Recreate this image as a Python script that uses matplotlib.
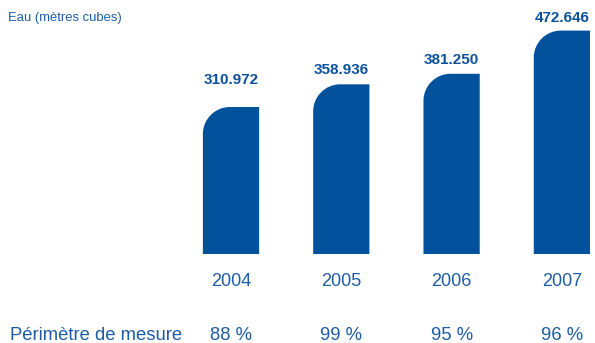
import matplotlib
matplotlib.use("Agg")
import matplotlib.pyplot as plt
import numpy as np
from matplotlib.path import Path
from matplotlib.patches import PathPatch

# ============================
# DONNEES
# ============================
years = ["2004", "2005", "2006", "2007"]
water_m3 = [310.972, 358.936, 381.250, 472.646]
value_labels = ["310.972", "358.936", "381.250", "472.646"]
perimeter = ["88 %", "99 %", "95 %", "96 %"]

title = "Eau (mètres cubes)"
row_label = "Périmètre de mesure"

# ============================
# STYLE
# ============================
BAR_COLOR = "#02519c"
TEXT_COLOR = "#1c5ca4"
VALUE_COLOR = "#0b519c"
plt.rcParams["font.family"] = ["Liberation Sans", "DejaVu Sans"]

DPI = 100
W_PX, H_PX = 595, 343
FIRST_CENTER_PX = 231.0     # centre de la premiere barre
STEP_PX = 110.3             # ecart entre barres
BASE_PX = 89.0              # ligne de base, depuis le bas
PX_PER_UNIT = 0.4727        # echelle verticale
BAR_WIDTH = 0.51
CORNER_PX = 27.0
# ecart (px) entre le haut de la barre et la ligne de base du libelle
label_gap_px = [23, 10.5, 10, 9]


def rounded_bar(ax, xc, height, width, r_px, color):
    # barre dont le coin superieur gauche est arrondi
    sx = ax.transData.transform([(1, 0)])[0][0] - ax.transData.transform([(0, 0)])[0][0]
    sy = ax.transData.transform([(0, 1)])[0][1] - ax.transData.transform([(0, 0)])[0][1]
    rx, ry = r_px / sx, r_px / sy
    x0, x1 = xc - width / 2, xc + width / 2
    k = 0.5523
    verts = [
        (x0, 0),
        (x0, height - ry),
        (x0, height - ry + k * ry), (x0 + rx - k * rx, height), (x0 + rx, height),
        (x1, height),
        (x1, 0),
        (x0, 0),
    ]
    codes = [Path.MOVETO, Path.LINETO,
             Path.CURVE4, Path.CURVE4, Path.CURVE4,
             Path.LINETO, Path.LINETO, Path.CLOSEPOLY]
    ax.add_patch(PathPatch(Path(verts, codes), facecolor=color, edgecolor="none"))


fig = plt.figure(figsize=(W_PX / DPI, H_PX / DPI), dpi=DPI)
ax = fig.add_axes([0, 0, 1, 1])
ax.set_xlim(-FIRST_CENTER_PX / STEP_PX, (W_PX - FIRST_CENTER_PX) / STEP_PX)
ax.set_ylim(-BASE_PX / PX_PER_UNIT, (H_PX - BASE_PX) / PX_PER_UNIT)
ax.axis("off")

x = np.arange(len(years))
px_to_pt = 72.0 / DPI

for i, v in enumerate(water_m3):
    rounded_bar(ax, x[i], v, BAR_WIDTH, CORNER_PX, BAR_COLOR)
    ax.annotate(value_labels[i], (x[i], v), xytext=(0, label_gap_px[i] * px_to_pt),
                textcoords="offset points", ha="center", va="baseline",
                fontsize=11, fontweight="bold", color=VALUE_COLOR)
    ax.annotate(years[i], (x[i], 0), xytext=(0, -32 * px_to_pt),
                textcoords="offset points", ha="center", va="baseline",
                fontsize=13, color=TEXT_COLOR)
    ax.annotate(perimeter[i], (x[i], 0), xytext=(0, -86 * px_to_pt),
                textcoords="offset points", ha="center", va="baseline",
                fontsize=13.3, color=TEXT_COLOR)

fig.text(8 / W_PX, 1 - 21 / H_PX, title, ha="left", va="baseline",
         fontsize=9.4, color=TEXT_COLOR)
fig.text(10 / W_PX, 3 / H_PX, row_label, ha="left", va="baseline",
         fontsize=13.3, color=TEXT_COLOR)

fig.savefig("out.png", dpi=DPI)
